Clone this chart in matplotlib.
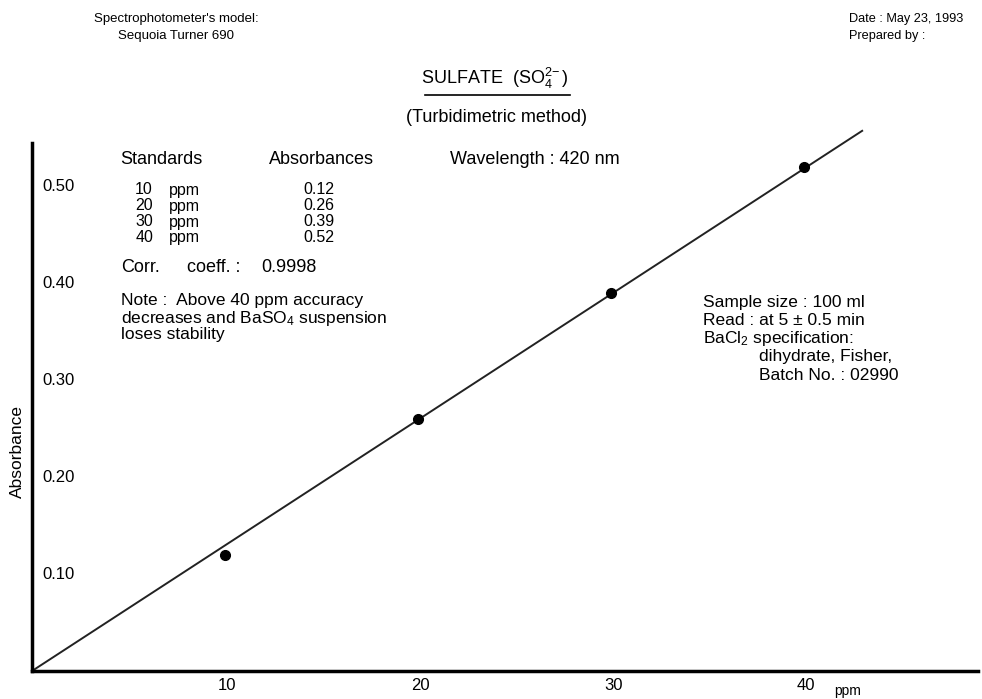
import numpy as np
import matplotlib.pyplot as plt

plt.rcParams['font.family'] = ['Liberation Sans', 'DejaVu Sans']
plt.rcParams['mathtext.fontset'] = 'custom'
plt.rcParams['mathtext.rm'] = 'Liberation Sans'
plt.rcParams['mathtext.it'] = 'Liberation Sans'

# calibration standards
ppm = [10, 20, 30, 40]
absorb = [0.12, 0.26, 0.39, 0.52]
xticks = [10, 20, 30, 40]
yticks = [0.10, 0.20, 0.30, 0.40, 0.50]
corr_coeff = 0.9998
wavelength = 420

W, H = 982, 699
fig = plt.figure(figsize=(W / 100, H / 100), dpi=100)


def px(x, y):
    return x / W, 1 - y / H


# axes box in pixel terms
x0, y0, x1, y1 = 32, 671, 978, 143
ax = fig.add_axes([x0 / W, 1 - y0 / H, (x1 - x0) / W, (y0 - y1) / H])
ax.set_xlim(0, 49)
ax.set_ylim(0, 0.545)
for s in ['top', 'right']:
    ax.spines[s].set_visible(False)
for s in ['left', 'bottom']:
    ax.spines[s].set_linewidth(2.5)
ax.set_xticks([])
ax.set_yticks([])

# least squares line through origin
x = np.array(ppm)
y = np.array(absorb)
slope = (x * y).sum() / (x * x).sum()
xl = np.array([0, 43])
ax.plot(xl, slope * xl, color='#222222', lw=1.4, clip_on=False)
ax.plot(ppm, absorb, 'o', color='black', ms=7)

# tick labels drawn inside the axes
for t in yticks:
    ax.text(0.55, t, f"{t:.2f}", fontsize=12, va='center', ha='left')
for t in xticks:
    fig.text(ax.transData.transform((t, 0))[0] / W + 0.002, 1 - 686 / H, f"{t}",
             fontsize=12, va='center', ha='center')
fig.text(*px(848, 691), "ppm", fontsize=10, va='center', ha='center')
fig.text(*px(17, 452), "Absorbance", rotation=90, fontsize=12.5, va='center', ha='center')

# header
fig.text(*px(176, 19), "Spectrophotometer's model:", fontsize=9.5, ha='center', va='center')
fig.text(*px(176, 36), "Sequoia Turner 690", fontsize=9.5, ha='center', va='center')
fig.text(*px(849, 19), "Date : May 23, 1993", fontsize=9.2, ha='left', va='center')
fig.text(*px(849, 36), "Prepared by :", fontsize=9.2, ha='left', va='center')
fig.text(*px(495, 78), r"SULFATE  (SO$_4^{2\!-}$)", fontsize=13, ha='center', va='center')
fig.add_artist(plt.Line2D([425 / W, 570 / W], [1 - 95 / H, 1 - 95 / H], color='black', lw=1.2))
fig.text(*px(497, 118), "(Turbidimetric method)", fontsize=13, ha='center', va='center')

# standards table
fig.text(*px(120, 160), "Standards", fontsize=13, ha='left', va='center')
fig.text(*px(269, 160), "Absorbances", fontsize=13, ha='left', va='center')
fig.text(*px(450, 160), f"Wavelength : {wavelength} nm", fontsize=13, ha='left', va='center')
for i, (p, a) in enumerate(zip(ppm, absorb)):
    yy = 190 + i * 16
    fig.text(*px(153, yy), f"{p}", fontsize=11.5, ha='right', va='center')
    fig.text(*px(169, yy), "ppm", fontsize=11.5, ha='left', va='center')
    fig.text(*px(303, yy), f"{a:.2f}", fontsize=11.5, ha='left', va='center')

fig.text(*px(121, 268), "Corr.", fontsize=13, ha='left', va='center')
fig.text(*px(187, 268), "coeff. :", fontsize=13, ha='left', va='center')
fig.text(*px(261, 268), f"{corr_coeff}", fontsize=13, ha='left', va='center')

fig.text(*px(121, 301), "Note :  Above 40 ppm accuracy", fontsize=12.5, ha='left', va='center')
fig.text(*px(121, 318), r"decreases and BaSO$_4$ suspension", fontsize=12.5, ha='left', va='center')
fig.text(*px(121, 335), "loses stability", fontsize=12.5, ha='left', va='center')

# sample notes
fig.text(*px(703, 303), "Sample size : 100 ml", fontsize=12.5, ha='left', va='center')
fig.text(*px(703, 321), "Read : at 5 \u00b1 0.5 min", fontsize=12.5, ha='left', va='center')
fig.text(*px(703, 339), r"BaCl$_2$ specification:", fontsize=12.5, ha='left', va='center')
fig.text(*px(759, 357), "dihydrate, Fisher,", fontsize=12.5, ha='left', va='center')
fig.text(*px(759, 375), "Batch No. : 02990", fontsize=12.5, ha='left', va='center')

fig.savefig("out.png", dpi=100)
